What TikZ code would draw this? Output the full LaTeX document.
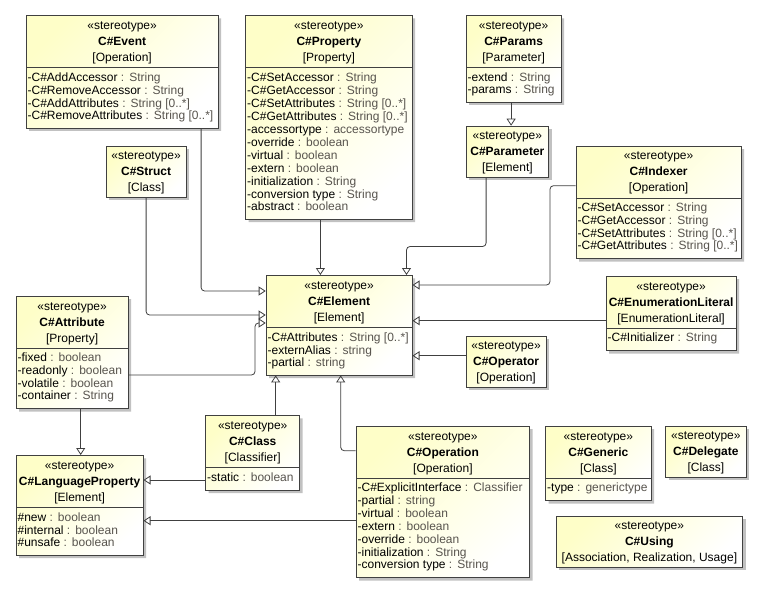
\documentclass[tikz,border=0pt]{standalone}
\usepackage{fontspec}
\setmainfont{Liberation Sans}
\usepackage{xcolor}
\usepackage{tikz}
\usetikzlibrary{arrows.meta, shapes.multipart, shadows}

\definecolor{boxyellow}{RGB}{254,254,200}
\definecolor{linegray}{RGB}{64,64,64}
\definecolor{typegray}{RGB}{88,84,78}

% header: stereotype, name, metaclass
\newcommand{\stereo}[2]{\centering\fontsize{12}{16}\selectfont%
  \rule{0pt}{10.5pt}\mbox{«stereotype»}\\\mbox{\textbf{#1}}\\\mbox{[#2]}\rule[-2.5pt]{0pt}{2.5pt}\par}
% attribute compartment
\newcommand{\attrs}[1]{\raggedright\fontsize{12}{13}\selectfont%
  \rule{0pt}{10.5pt}#1\rule[-5.5pt]{0pt}{5.5pt}}
\newcommand{\attr}[2]{\mbox{#1 \textcolor{typegray}{: #2}}}

\begin{document}
\begin{tikzpicture}[x=1pt, y=-1pt,
  every node/.style={inner xsep=1.5pt, inner ysep=3pt, anchor=north west, align=left},
  stype/.style={draw=linegray, line width=0.8pt, top color=boxyellow, bottom color=white,
                shading angle=45, text width={#1-3pt},
                drop shadow={shadow xshift=3pt, shadow yshift=-3pt, fill=black!40, opacity=.6}},
  stypesplit/.style={stype=#1, rectangle split, rectangle split parts=2},
  gen/.style={draw=linegray, line width=0.8pt, rounded corners=3.5pt,
              -{Triangle[open, length=7pt, width=9pt]}},
]
\path[use as bounding box, fill=white] (0,0) rectangle (760,591);

% Top row
\node[stypesplit=192] (event) at (25.7,15) {\stereo{C\#Event}{Operation}\nodepart{two}\attrs{%
  \attr{-C\#AddAccessor}{String}\\
  \attr{-C\#RemoveAccessor}{String}\\
  \attr{-C\#AddAttributes}{String [0..*]}\\
  \attr{-C\#RemoveAttributes}{String [0..*]}}};
\node[stypesplit=166.4] (property) at (245.3,15) {\stereo{C\#Property}{Property}\nodepart{two}\attrs{%
  \attr{-C\#SetAccessor}{String}\\
  \attr{-C\#GetAccessor}{String}\\
  \attr{-C\#SetAttributes}{String [0..*]}\\
  \attr{-C\#GetAttributes}{String [0..*]}\\
  \attr{-accessortype}{accessortype}\\
  \attr{-override}{boolean}\\
  \attr{-virtual}{boolean}\\
  \attr{-extern}{boolean}\\
  \attr{-initialization}{String}\\
  \attr{-conversion type}{String}\\
  \attr{-abstract}{boolean}}};
\node[stypesplit=95] (params) at (465.7,15) {\stereo{C\#Params}{Parameter}\nodepart{two}\attrs{%
  \attr{-extend}{String}\\
  \attr{-params}{String}}};
\node[stype=82.6] (parameter) at (465.7,125.7) {\stereo{C\#Parameter}{Element}};
\node[stype=80] (struct) at (105.7,145.7) {\stereo{C\#Struct}{Class}};
\node[stypesplit=165] (indexer) at (575.7,145.7) {\stereo{C\#Indexer}{Operation}\nodepart{two}\attrs{%
  \attr{-C\#SetAccessor}{String}\\
  \attr{-C\#GetAccessor}{String}\\
  \attr{-C\#SetAttributes}{String [0..*]}\\
  \attr{-C\#GetAttributes}{String [0..*]}}};

% Middle
\node[stypesplit=146] (element) at (265.7,275) {\stereo{C\#Element}{Element}\nodepart{two}\attrs{%
  \attr{-C\#Attributes}{String [0..*]}\\
  \attr{-externAlias}{string}\\
  \attr{-partial}{string}}};
\node[stypesplit=130] (enumlit) at (605.7,275.7) {\stereo{C\#EnumerationLiteral}{EnumerationLiteral}\nodepart{two}\attrs{%
  \attr{-C\#Initializer}{String}}};
\node[stype=80] (operator) at (465.7,335.7) {\stereo{C\#Operator}{Operation}};
\node[stypesplit=112] (attribute) at (15.7,295.7) {\stereo{C\#Attribute}{Property}\nodepart{two}\attrs{%
  \attr{-fixed}{boolean}\\
  \attr{-readonly}{boolean}\\
  \attr{-volatile}{boolean}\\
  \attr{-container}{String}}};

% Bottom row
\node[stypesplit=94] (class) at (205.3,415) {\stereo{C\#Class}{Classifier}\nodepart{two}\attrs{%
  \attr{-static}{boolean}}};
\node[stypesplit=127] (langprop) at (15.7,455) {\stereo{C\#LanguageProperty}{Element}\nodepart{two}\attrs{%
  \attr{\#new}{boolean}\\
  \attr{\#internal}{boolean}\\
  \attr{\#unsafe}{boolean}}};
\node[stypesplit=173.6] (operation) at (355.7,425.7) {\stereo{C\#Operation}{Operation}\nodepart{two}\attrs{%
  \attr{-C\#ExplicitInterface}{Classifier}\\
  \attr{-partial}{string}\\
  \attr{-virtual}{boolean}\\
  \attr{-extern}{boolean}\\
  \attr{-override}{boolean}\\
  \attr{-initialization}{String}\\
  \attr{-conversion type}{String}}};
\node[stypesplit=105.4] (generic) at (545.3,425.7) {\stereo{C\#Generic}{Class}\nodepart{two}\attrs{%
  \attr{-type}{generictype}}};
\node[stype=80.4] (delegate) at (665.3,425.7) {\stereo{C\#Delegate}{Class}};
\node[stype=186.6] (using) at (555.7,515.7) {\stereo{C\#Using}{Association, Realization, Usage}};

% Generalizations
\draw[gen] ([xshift=-17.4pt]event.south east) |- ([yshift=-16pt]element.north west);
\draw[gen] ([xshift=-8.5pt]property.south) -- ([xshift=-8.5pt]property.south |- element.north);
\draw[gen] ([xshift=-21.3pt]parameter.south) -- ++(0,69) -| ([xshift=-6pt]element.north east);
\draw[gen] ([yshift=-40pt]indexer.north west) -- ++(-25.7,0) |- ([yshift=-10pt]element.north east);
\draw[gen] (struct.south) |- ([yshift=-40pt]element.north west);
\draw[gen] ([yshift=-79.3pt]attribute.north east) -| ([xshift=-10.7pt, yshift=-48pt]element.north west)
  -- ([yshift=-48pt]element.north west);
\draw[gen] ([xshift=23pt]class.north) -- ([xshift=23pt]class.north |- element.south);
\draw[gen] ([yshift=-25pt]operation.north west) -| ([xshift=75pt]element.south west);
\draw[gen] ([yshift=-45pt]enumlit.north west) -- ([yshift=-45pt]enumlit.north west -| element.east);
\draw[gen] ([yshift=-20pt]operator.north west) -- ([yshift=-20pt]operator.north west -| element.east);
\draw[gen] ([xshift=-2.5pt]params.south) -- ([xshift=-2.5pt]params.south |- parameter.north);
\draw[gen] ([xshift=8.6pt]attribute.south) -- ([xshift=8.6pt]attribute.south |- langprop.north);
\draw[gen] ([yshift=-65pt]class.north west) -- ([yshift=-65pt]class.north west -| langprop.east);
\draw[gen] ([yshift=-95pt]operation.north west) -- ([yshift=-95pt]operation.north west -| langprop.east);

\end{tikzpicture}
\end{document}
